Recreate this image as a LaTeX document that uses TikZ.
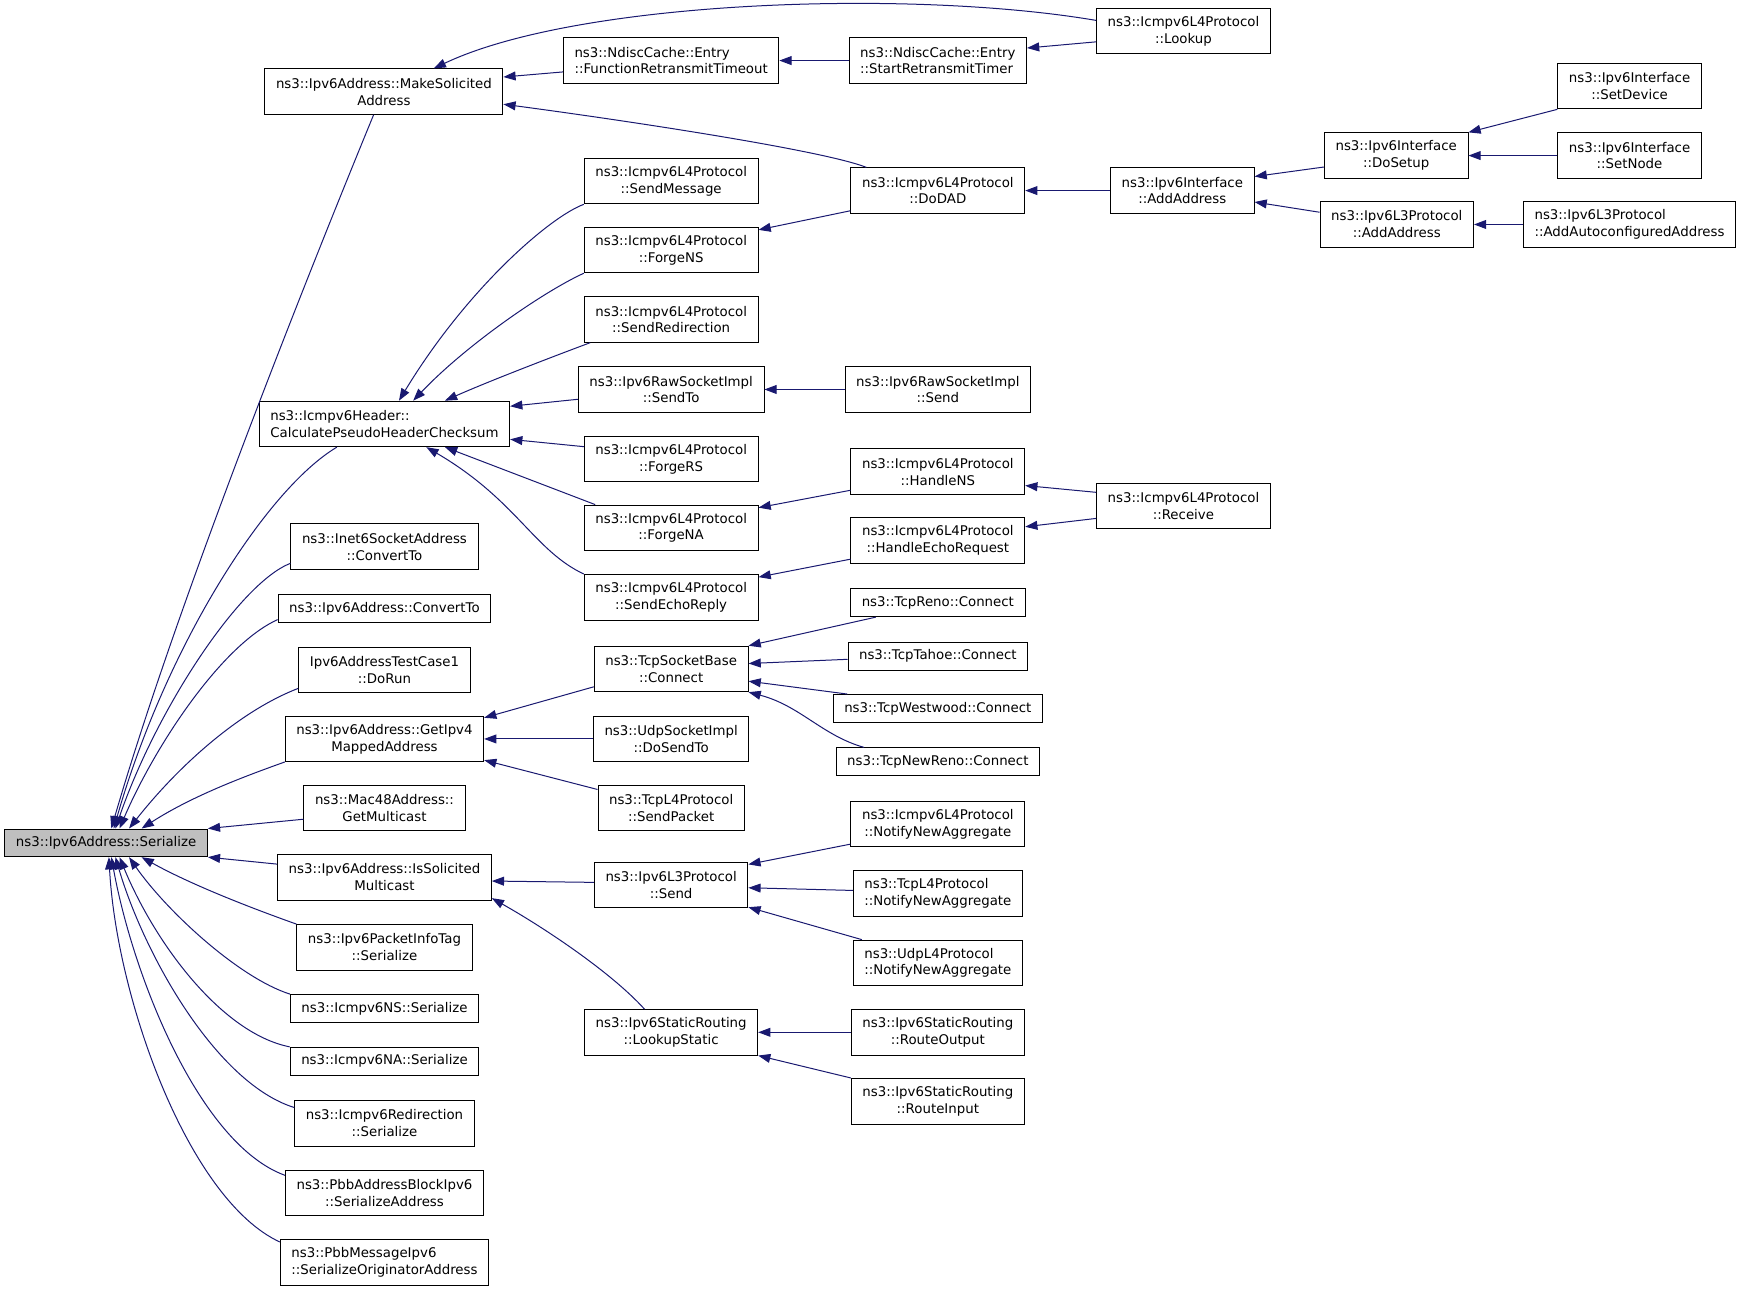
\documentclass[tikz,border=0pt]{standalone}
\usepackage{fontspec}
\setmainfont{DejaVu Sans}
\usepackage{xcolor}
\usetikzlibrary{arrows.meta}
\definecolor{midnight}{RGB}{25,25,112}
\definecolor{grey75}{RGB}{191,191,191}

\begin{document}
\begin{tikzpicture}[x=1pt, y=-1pt,
        fn/.style={draw=black, line width=0.8pt, inner xsep=10pt, inner ysep=3pt, minimum height=41pt, align=center, font=\fontsize{12}{15.2}\selectfont},
        fnl/.style={fn, align=left},
        fns/.style={fn, minimum height=25pt},
        call/.style={draw=midnight, line width=0.9pt, -{Triangle[length=11pt, width=8pt]}}]
        \useasboundingbox (0,0) rectangle (1565,1160);
        % the function itself
        \node[fns, fill=grey75] (serialize) at (95.5,758.5) {ns3::Ipv6Address::Serialize};
        % first column of callers
        \node[fn] (makesol) at (345.5,82.5) {ns3::Ipv6Address::MakeSolicited\\Address};
        \node[fnl] (checksum) at (346,381.5) {ns3::Icmpv6Header::\\CalculatePseudoHeaderChecksum};
        \node[fn] (inet6) at (346,492) {ns3::Inet6SocketAddress\\::ConvertTo};
        \node[fns] (convto) at (346,547.5) {ns3::Ipv6Address::ConvertTo};
        \node[fn] (testcase) at (346,603) {Ipv6AddressTestCase1\\::DoRun};
        \node[fn] (getipv4) at (346,665) {ns3::Ipv6Address::GetIpv4\\MappedAddress};
        \node[fn] (mac48) at (346,727) {ns3::Mac48Address::\\GetMulticast};
        \node[fn] (issol) at (346,789.5) {ns3::Ipv6Address::IsSolicited\\Multicast};
        \node[fn] (pkttag) at (346,852.5) {ns3::Ipv6PacketInfoTag\\::Serialize};
        \node[fns] (nsser) at (346,907.5) {ns3::Icmpv6NS::Serialize};
        \node[fns] (naser) at (346,955) {ns3::Icmpv6NA::Serialize};
        \node[fn] (redir) at (346,1011) {ns3::Icmpv6Redirection\\::Serialize};
        \node[fn] (pbbaddr) at (346,1073.5) {ns3::PbbAddressBlockIpv6\\::SerializeAddress};
        \node[fnl] (pbbmsg) at (346,1136) {ns3::PbbMessageIpv6\\::SerializeOriginatorAddress};
        % second column
        \node[fnl] (funcretx) at (604,54.5) {ns3::NdiscCache::Entry\\::FunctionRetransmitTimeout};
        \node[fn] (sendmsg) at (604,163) {ns3::Icmpv6L4Protocol\\::SendMessage};
        \node[fn] (forgens) at (604,225) {ns3::Icmpv6L4Protocol\\::ForgeNS};
        \node[fn] (sendredir) at (604,287.5) {ns3::Icmpv6L4Protocol\\::SendRedirection};
        \node[fn] (sendto) at (604,350.5) {ns3::Ipv6RawSocketImpl\\::SendTo};
        \node[fn] (forgers) at (604,413) {ns3::Icmpv6L4Protocol\\::ForgeRS};
        \node[fn] (forgena) at (604,475) {ns3::Icmpv6L4Protocol\\::ForgeNA};
        \node[fn] (sendecho) at (604,537.5) {ns3::Icmpv6L4Protocol\\::SendEchoReply};
        \node[fn] (tcpconnect) at (604,602) {ns3::TcpSocketBase\\::Connect};
        \node[fn] (udpsend) at (604,665) {ns3::UdpSocketImpl\\::DoSendTo};
        \node[fn] (tcpsendpkt) at (604,727) {ns3::TcpL4Protocol\\::SendPacket};
        \node[fn] (l3send) at (604,796.5) {ns3::Ipv6L3Protocol\\::Send};
        \node[fn] (lookupstatic) at (604,929) {ns3::Ipv6StaticRouting\\::LookupStatic};
        % third column
        \node[fnl] (startretx) at (844,54.5) {ns3::NdiscCache::Entry\\::StartRetransmitTimer};
        \node[fn] (dodad) at (844,171.5) {ns3::Icmpv6L4Protocol\\::DoDAD};
        \node[fn] (rawsend) at (844,350.5) {ns3::Ipv6RawSocketImpl\\::Send};
        \node[fn] (handlens) at (844,424.5) {ns3::Icmpv6L4Protocol\\::HandleNS};
        \node[fn] (handleecho) at (844,486.5) {ns3::Icmpv6L4Protocol\\::HandleEchoRequest};
        \node[fns] (reno) at (844,542.5) {ns3::TcpReno::Connect};
        \node[fns] (tahoe) at (844,590.5) {ns3::TcpTahoe::Connect};
        \node[fns] (westwood) at (844,637.5) {ns3::TcpWestwood::Connect};
        \node[fns] (newreno) at (844,685.5) {ns3::TcpNewReno::Connect};
        \node[fn] (icmpnotify) at (844,741.5) {ns3::Icmpv6L4Protocol\\::NotifyNewAggregate};
        \node[fnl] (tcpnotify) at (844,804) {ns3::TcpL4Protocol\\::NotifyNewAggregate};
        \node[fnl] (udpnotify) at (844,866.5) {ns3::UdpL4Protocol\\::NotifyNewAggregate};
        \node[fn] (routeout) at (844,929) {ns3::Ipv6StaticRouting\\::RouteOutput};
        \node[fn] (routein) at (844,991) {ns3::Ipv6StaticRouting\\::RouteInput};
        % fourth column and beyond
        \node[fn] (lookup) at (1065,28) {ns3::Icmpv6L4Protocol\\::Lookup};
        \node[fn] (addaddr) at (1064,171.5) {ns3::Ipv6Interface\\::AddAddress};
        \node[fn] (receive) at (1065,455.5) {ns3::Icmpv6L4Protocol\\::Receive};
        \node[fn] (dosetup) at (1256.5,140) {ns3::Ipv6Interface\\::DoSetup};
        \node[fn] (l3addaddr) at (1257,202) {ns3::Ipv6L3Protocol\\::AddAddress};
        \node[fn] (setdevice) at (1466.5,77.5) {ns3::Ipv6Interface\\::SetDevice};
        \node[fn] (setnode) at (1466.5,140) {ns3::Ipv6Interface\\::SetNode};
        \node[fnl] (autoconf) at (1466.5,202) {ns3::Ipv6L3Protocol\\::AddAutoconfiguredAddress};
        % calls into Serialize
        \draw[call] (makesol.246) .. controls (280,240) and (160,540) .. (serialize.70);
        \draw[call] (checksum.206) .. controls (240,440) and (150,580) .. (serialize.62);
        \draw[call] (inet6.190) .. controls (215,525) and (140,640) .. (serialize.57);
        \draw[call] (convto.186) .. controls (200,580) and (140,670) .. (serialize.47);
        \draw[call] (testcase.192) .. controls (215,640) and (160,690) .. (serialize.32);
        \draw[call] (getipv4.193) .. controls (225,697) and (175,715) .. (serialize.22);
        \draw[call] (mac48.188) -- (serialize.north east);
        \draw[call] (issol.173) -- (serialize.south east);
        \draw[call] (pkttag.north west) .. controls (220,815) and (170,795) .. (serialize.-22);
        \draw[call] (nsser.north west) .. controls (215,880) and (150,820) .. (serialize.-32);
        \draw[call] (naser.north west) .. controls (200,930) and (140,850) .. (serialize.-47);
        \draw[call] (redir.170) .. controls (195,975) and (130,860) .. (serialize.-57);
        \draw[call] (pbbaddr.170) .. controls (180,1030) and (120,880) .. (serialize.-70);
        \draw[call] (pbbmsg.169) .. controls (170,1080) and (105,900) .. (serialize.-79);
        % MakeSolicitedAddress branch
        \draw[call] (funcretx.186) -- (makesol.7);
        \draw[call] (lookup.173) .. controls (820,-10) and (520,0) .. (makesol.25);
        \draw[call] (dodad.162) .. controls (740,135) and (560,108) .. (makesol.-6);
        \draw[call] (startretx.west) -- (funcretx.east);
        \draw[call] (lookup.187) -- (startretx.8);
        \draw[call] (addaddr.west) -- (dodad.east);
        \draw[call] (dosetup.189) -- (addaddr.11);
        \draw[call] (l3addaddr.171) -- (addaddr.-9);
        \draw[call] (setdevice.south west) -- (dosetup.north east);
        \draw[call] (setnode.west) -- (dosetup.east);
        \draw[call] (autoconf.west) -- (l3addaddr.east);
        % checksum branch
        \draw[call] (sendmsg.south west) .. controls (495,195) and (420,260) .. (checksum.58);
        \draw[call] (forgens.south west) .. controls (490,262) and (420,310) .. (checksum.39);
        \draw[call] (sendredir.196) .. controls (500,320) and (440,343) .. (checksum.21);
        \draw[call] (sendto.186) -- (checksum.8);
        \draw[call] (forgers.172) -- (checksum.-7);
        \draw[call] (forgena.163) -- (checksum.-21);
        \draw[call] (sendecho.north west) .. controls (480,495) and (465,450) .. (checksum.-29);
        \draw[call] (dodad.193) -- (forgens.13);
        \draw[call] (rawsend.west) -- (sendto.east);
        \draw[call] (handlens.192) -- (forgena.13);
        \draw[call] (handleecho.192) -- (sendecho.13);
        \draw[call] (receive.171) -- (handlens.-9);
        \draw[call] (receive.188) -- (handleecho.9);
        % GetIpv4MappedAddress branch
        \draw[call] (tcpconnect.193) -- (getipv4.12);
        \draw[call] (udpsend.west) -- (getipv4.east);
        \draw[call] (tcpsendpkt.166) -- (getipv4.-12);
        \draw[call] (reno.193) -- (tcpconnect.north east);
        \draw[call] (tahoe.182) -- (tcpconnect.4);
        \draw[call] (westwood.171) -- (tcpconnect.-9);
        \draw[call] (newreno.169) .. controls (740,662) and (720,635) .. (tcpconnect.south east);
        % IsSolicitedMulticast branch
        \draw[call] (l3send.178) -- (issol.-2);
        \draw[call] (lookupstatic.139) .. controls (550,875) and (490,835) .. (issol.-11);
        \draw[call] (icmpnotify.193) -- (l3send.15);
        \draw[call] (tcpnotify.178) -- (l3send.-2);
        \draw[call] (udpnotify.163) -- (l3send.-16);
        \draw[call] (routeout.west) -- (lookupstatic.east);
        \draw[call] (routein.north west) -- (lookupstatic.south east);
    \end{tikzpicture}
\end{document}
